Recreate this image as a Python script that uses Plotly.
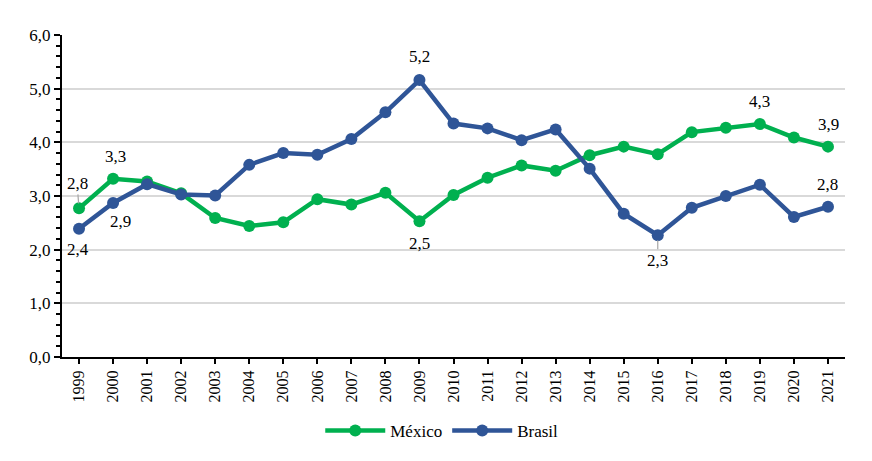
import plotly.graph_objects as go

years = list(range(1999, 2022))
mexico = [2.77, 3.32, 3.27, 3.05, 2.59, 2.44, 2.51, 2.94, 2.84, 3.06, 2.53, 3.02,
          3.34, 3.57, 3.47, 3.76, 3.92, 3.78, 4.19, 4.27, 4.34, 4.09, 3.92]
brasil = [2.39, 2.87, 3.22, 3.03, 3.01, 3.58, 3.80, 3.77, 4.06, 4.56, 5.16, 4.35,
          4.26, 4.04, 4.24, 3.51, 2.67, 2.27, 2.78, 3.00, 3.21, 2.61, 2.80]

green = "#00b04f"
blue = "#2f5597"
serif = "Liberation Serif"

fig = go.Figure()
fig.add_trace(go.Scatter(x=years, y=mexico, name="México", mode="lines+markers",
                         line=dict(color=green, width=4.5), marker=dict(size=12, color=green)))
fig.add_trace(go.Scatter(x=years, y=brasil, name="Brasil", mode="lines+markers",
                         line=dict(color=blue, width=4.5), marker=dict(size=12, color=blue)))

def fmt(v):
    return f"{v:.1f}".replace(".", ",")

# (series, year, dy in px, dx in px, leader)
labels = [
    (mexico, 1999, -25, -2, True),
    (brasil, 1999, 21, -1, False),
    (mexico, 2000, -22, 2, False),
    (brasil, 2000, 19, 7, False),
    (brasil, 2009, -24, 0, False),
    (mexico, 2009, 22, 0, False),
    (brasil, 2016, 25, 0, True),
    (mexico, 2019, -23, 0, False),
    (mexico, 2021, -22, 1, False),
    (brasil, 2021, -22, 0, False),
]
for series, yr, dy, dx, leader in labels:
    v = series[years.index(yr)]
    if leader:
        fig.add_annotation(x=yr, y=v, text=fmt(v), showarrow=True, arrowhead=0,
                           arrowcolor="#a6a6a6", arrowwidth=1.2, ax=dx, ay=dy, standoff=5,
                           font=dict(family=serif, size=17, color="black"))
    else:
        fig.add_annotation(x=yr, y=v, text=fmt(v), showarrow=False, xshift=dx, yshift=-dy,
                           font=dict(family=serif, size=17, color="black"))

fig.update_layout(
    width=864, height=453,
    margin=dict(l=54, r=27, t=27, b=91),
    paper_bgcolor="white", plot_bgcolor="white",
    separators=", ",
    showlegend=True,
    legend=dict(orientation="h", x=0.485, xanchor="center", y=-0.23, yanchor="middle",
                font=dict(family=serif, size=17, color="black"), itemwidth=60),
    xaxis=dict(range=[1998.5, 2021.5], tickvals=years, ticktext=[str(y) for y in years],
               tickangle=-90, ticks="outside", ticklen=5, tickwidth=2, tickcolor="black",
               showline=True, linecolor="black", linewidth=2, showgrid=False, zeroline=False,
               automargin=False, tickfont=dict(family=serif, size=16, color="black")),
    yaxis=dict(range=[0, 6], dtick=1, tickformat=".1f", ticks="outside", ticklen=6,
               tickwidth=2, tickcolor="black", showline=True, linecolor="black", linewidth=2,
               showgrid=True, gridcolor="#d9d9d9", gridwidth=2, zeroline=False,
               automargin=False,
               minor=dict(dtick=0.2, ticks="outside", ticklen=4, tickwidth=2,
                          tickcolor="black", showgrid=False),
               tickfont=dict(family=serif, size=17, color="black")),
)

fig.write_html("out.html")
